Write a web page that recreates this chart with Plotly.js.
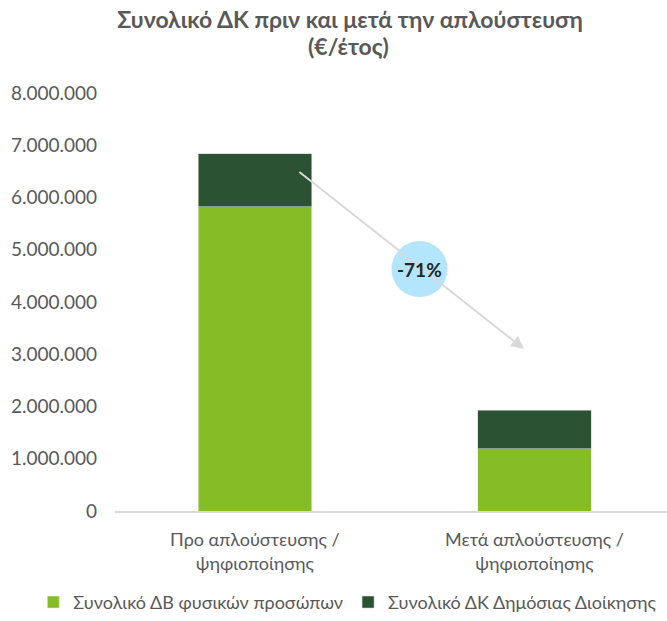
<!DOCTYPE html>
<html>
<head>
<meta charset="utf-8">
<script src="https://cdn.plot.ly/plotly-3.0.1.min.js"></script>
<style>html,body{margin:0;padding:0;background:#fff;}#chart{width:667px;height:621px;}</style>
</head>
<body>
<div id="chart"></div>
<script>
// ---- data ----
var categories = ["Προ απλούστευσης /<br>ψηφιοποίησης", "Μετά απλούστευσης /<br>ψηφιοποίησης"];
var seriesNames = ["Συνολικό ΔΒ φυσικών προσώπων", "Συνολικό ΔΚ Δημόσιας Διοίκησης"];
var citizensCost = [5820000, 1190000];
var adminCost = [1020000, 740000];
var changeLabel = "-71%";
var yTickVals = [0, 1000000, 2000000, 3000000, 4000000, 5000000, 6000000, 7000000, 8000000];

var FONT = "Lato, 'Noto Sans', sans-serif";
var GREY = "#595959";

var traces = [
  {type: "bar", x: categories, y: citizensCost, name: seriesNames[0],
   marker: {color: "#86BC25", line: {color: "#E8F2D4", width: 0.6}}, width: 0.406},
  {type: "bar", x: categories, y: adminCost, name: seriesNames[1],
   marker: {color: "#2C5234", line: {color: "#C9D3CB", width: 0.6}}, width: 0.406}
];

var layout = {
  width: 667, height: 621,
  margin: {l: 115, r: 0, t: 93, b: 107, pad: 0},
  paper_bgcolor: "#fff", plot_bgcolor: "#fff",
  separators: ",.",
  barmode: "stack",
  font: {family: FONT, color: GREY, size: 18},
  title: {
    text: "<b>Συνολικό ΔΚ πριν και μετά την απλούστευση</b>",
    font: {family: FONT, size: 23, color: GREY},
    xref: "container", x: 0.5247, xanchor: "center",
    yref: "container", y: 1 - 20 / 621, yanchor: "middle"
  },
  xaxis: {
    type: "category", range: [-0.5, 1.474],
    showgrid: false, zeroline: false,
    showline: true, linecolor: "#D9D9D9", linewidth: 1.5,
    ticks: "", ticklabelstandoff: 12,
    tickfont: {family: FONT, size: 18, color: GREY},
    fixedrange: true
  },
  yaxis: {
    range: [0, 8000000], tickvals: yTickVals, tickformat: ",d",
    showgrid: false, zeroline: false, showline: false,
    ticks: "", ticklabelstandoff: 17,
    tickfont: {family: FONT, size: 19, color: GREY},
    fixedrange: true
  },
  showlegend: true,
  legend: {
    orientation: "h", traceorder: "normal",
    xref: "paper", yref: "paper",
    x: -0.148, xanchor: "left", y: (514 - 606) / 421, yanchor: "middle",
    font: {family: FONT, size: 18, color: GREY},
    itemwidth: 30, tracegroupgap: 0
  },
  shapes: [{
    type: "circle", xref: "x", yref: "y",
    xsizemode: "pixel", ysizemode: "pixel",
    xanchor: 0.589, yanchor: 4630000,
    x0: -28, x1: 28, y0: -28, y1: 28,
    fillcolor: "#B3E5FC", line: {width: 0}, layer: "above"
  }],
  annotations: [
    {xref: "paper", yref: "paper", x: (348 - 115) / 552, y: (514 - 46) / 421,
     xanchor: "center", yanchor: "middle",
     text: "<b>(€/έτος)</b>", showarrow: false, font: {family: FONT, size: 23, color: GREY}},
    {x: 0.963, y: 3100000, ax: 0.154, ay: 6510000, xref: "x", yref: "y", axref: "x", ayref: "y",
     text: "", showarrow: true, arrowhead: 2, arrowsize: 1.3, arrowwidth: 2, arrowcolor: "#D9D9D9"},
    {x: 0.589, y: 4630000, xref: "x", yref: "y", text: "<b>" + changeLabel + "</b>", showarrow: false,
     font: {family: FONT, size: 19, color: "#262626"}}
  ]
};

Plotly.newPlot("chart", traces, layout, {displayModeBar: false, staticPlot: true});
</script>
</body>
</html>
